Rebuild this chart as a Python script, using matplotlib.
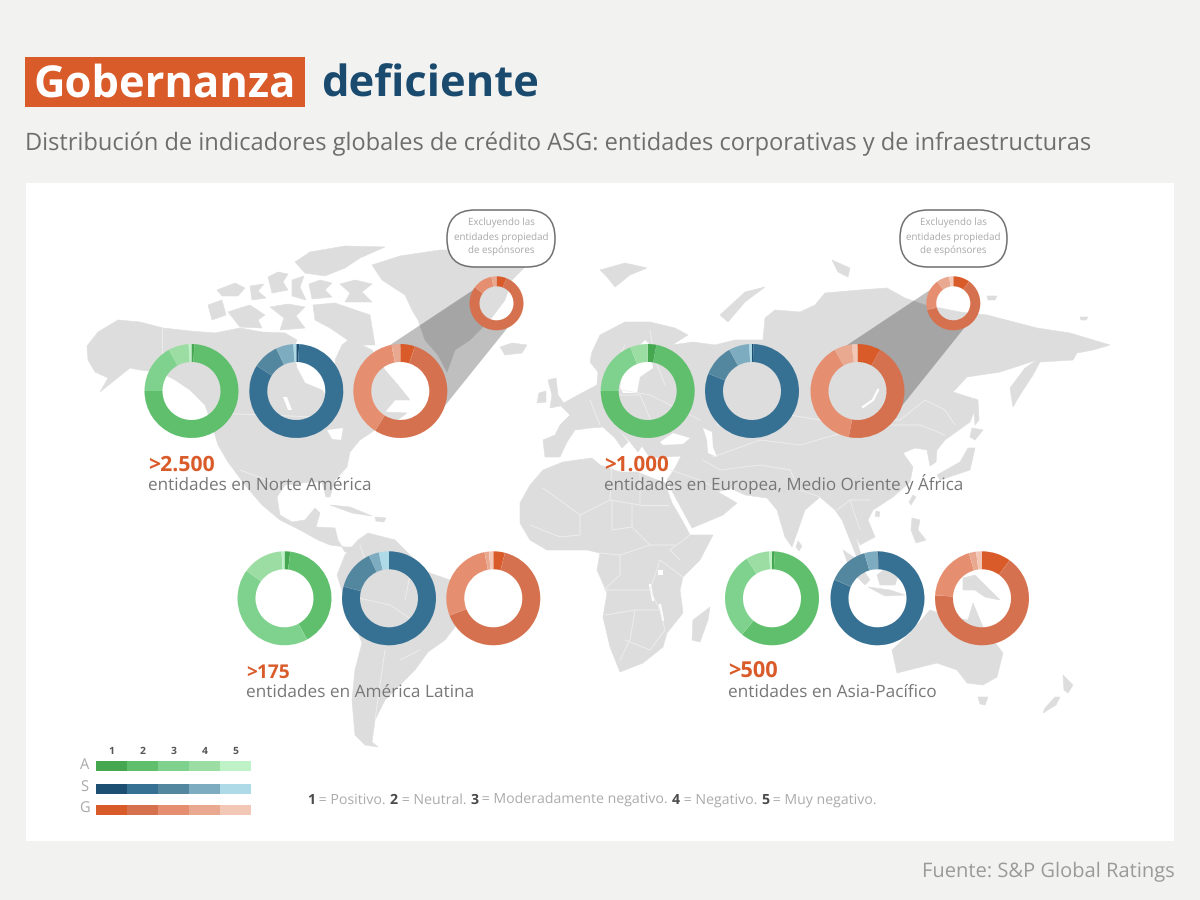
import numpy as np
import matplotlib
matplotlib.use("Agg")
import matplotlib.pyplot as plt
from matplotlib.patches import Rectangle, FancyBboxPatch
from matplotlib.textpath import TextPath
from matplotlib.font_manager import FontProperties

FONT = "Open Sans"
plt.rcParams["font.family"] = [FONT, "DejaVu Sans"]
plt.rcParams["text.hinting"] = "no_hinting"

# ---------- data ----------
RATINGS = [1, 2, 3, 4, 5]
NA_A = [1, 74, 17, 7, 1]
NA_S = [1, 83, 9, 6, 1]
NA_G = [5, 54, 38, 3, 0]
NA_G_EX = [6, 79, 12, 3, 0]
EMEA_A = [3, 72, 19, 6, 0]
EMEA_S = [0.5, 80.5, 11, 7, 1]
EMEA_G = [8, 45, 39, 6, 2]
EMEA_G_EX = [10, 61, 19, 7.5, 2.5]
LATAM_A = [2, 40, 43, 14, 1]
LATAM_S = [0, 79, 14, 3.5, 3.5]
LATAM_G = [4, 65, 28, 1.5, 1.5]
APAC_A = [1, 60, 30, 8, 1]
APAC_S = [0.5, 81, 14, 4.5, 0]
APAC_G = [10, 66, 19.5, 2.5, 2]

COL_A = ["#45A851", "#5FBF6D", "#7FD28D", "#9CDDA3", "#C0F2C8"]
COL_S = ["#1D4F73", "#367194", "#53869F", "#7DACC1", "#AED9E6"]
COL_G = ["#DA5B2A", "#D5714E", "#E68F70", "#E9A890", "#F3C7B6"]

# map outline, in pixels of the reference picture
NORTH_AMERICA = [(87,346),(98,332),(118,320),(140,322),(163,328),(190,331),(215,333),(240,328),(262,332),(285,333),(297,340),(293,350),(297,368),(305,383),(322,390),(328,398),(335,392),(337,375),(335,360),(342,345),(352,337),(362,345),(372,350),(378,360),(385,370),(398,385),(410,400),(395,400),(385,412),(407,413),(395,422),(375,430),(360,440),(350,452),(347,467),(335,480),(330,497),(326,497),(322,482),(310,482),(285,485),(277,497),(280,515),(292,522),(305,520),(315,508),(320,513),(316,527),(335,528),(338,540),(345,552),(358,553),(360,547),(345,547),(330,545),(318,540),(300,530),(280,520),(262,505),(245,485),(228,462),(218,445),(212,425),(205,405),(190,390),(175,380),(160,372),(140,370),(130,368),(115,380),(100,392),(108,378),(95,372),(88,360)]
GREENLAND = [(372,265),(400,256),(440,250),(480,250),(530,262),(512,280),(505,300),(490,320),(470,340),(455,350),(447,372),(438,355),(425,340),(418,320),(412,310),(405,295),(382,280)]
SOUTH_AMERICA = [(358,540),(368,533),(395,540),(427,572),(450,580),(462,600),(455,627),(445,640),(428,652),(415,670),(400,685),(385,700),(375,720),(372,742),(378,747),(365,745),(355,735),(352,700),(355,670),(362,643),(345,600),(337,575),(345,555)]
AFRICA = [(520,503),(530,485),(543,470),(563,462),(592,458),(600,465),(620,472),(637,472),(665,483),(672,503),(682,520),(690,535),(713,535),(700,560),(683,577),(680,590),(683,613),(667,633),(663,647),(643,663),(620,672),(610,647),(603,617),(607,593),(597,570),(600,553),(587,550),(547,550),(530,540),(520,523)]
MADAGASCAR = [(710,607),(708,620),(700,642),(692,640),(693,620)]
EURASIA = [(592,352),(600,335),(625,322),(650,322),(675,328),(688,335),(672,345),(693,342),(715,345),(735,340),(763,340),(765,318),(775,310),(800,312),(815,305),(825,293),(860,290),(887,288),(905,298),(925,305),(960,312),(987,315),(1037,328),(1070,333),(1110,345),(1093,350),(1077,353),(1073,360),(1040,362),(1033,375),(1020,395),(1013,407),(1010,388),(1025,368),(1037,360),(1000,372),(967,377),(953,392),(972,398),(975,410),(970,422),(945,440),(937,450),(936,462),(930,466),(927,450),(915,448),(903,453),(913,467),(910,482),(893,497),(873,510),(868,520),(875,537),(860,545),(855,535),(862,558),(858,560),(850,540),(842,520),(835,510),(820,497),(805,510),(797,533),(792,547),(785,537),(777,510),(767,498),(745,495),(730,488),(718,492),(737,503),(723,515),(692,528),(673,493),(667,480),(675,468),(681,456),(665,457),(650,458),(642,446),(638,452),(630,442),(614,424),(628,442),(622,448),(615,438),(603,427),(590,428),(575,430),(567,442),(560,457),(545,457),(543,440),(555,435),(560,425),(570,415),(560,405),(578,395),(597,385),(598,372),(590,362)]
AUSTRALIA = [(892,650),(897,673),(937,663),(957,670),(967,683),(983,685),(997,677),(1003,653),(983,627),(973,603),(968,620),(950,617),(930,610),(910,633)]
ISLANDS = [
    [(295,262),(310,252),(345,246),(385,247),(360,258),(345,268),(325,276),(305,273)],
    [(208,305),(222,300),(226,315),(212,320)],
    [(228,312),(240,308),(250,305),(265,315),(258,320),(262,328),(240,327)],
    [(217,290),(235,283),(245,288),(238,296),(222,296)],
    [(250,286),(264,284),(258,291),(266,298),(252,300)],
    [(268,277),(278,272),(288,274),(283,282),(288,290),(272,293)],
    [(292,280),(304,276),(300,287),(306,300),(292,296)],
    [(309,284),(320,280),(332,283),(325,290),(332,297),(312,299)],
    [(340,284),(355,280),(372,284),(362,292),(372,302),(345,302),(350,293)],
    [(313,305),(335,303),(370,315),(375,345),(355,345),(330,328),(315,320)],
    [(270,307),(288,304),(305,307),(296,316),(305,328),(280,330),(284,318)],
    [(330,505),(350,507),(372,516),(352,513)],
    [(375,517),(386,518),(384,522),(376,521)],
    [(548,380),(556,378),(558,395),(565,405),(550,408),(552,395)],
    [(539,393),(546,391),(546,402),(537,403)],
    [(500,347),(512,343),(527,345),(522,353),(505,355)],
    [(600,270),(625,263),(647,268),(630,275),(615,287),(607,277)],
    [(720,315),(745,292),(765,287),(745,302),(728,322)],
    [(832,260),(850,268),(848,277),(838,272)],
    [(987,296),(997,296),(995,300),(988,300)],
    [(1080,317),(1088,317),(1086,320),(1081,320)],
    [(975,448),(970,470),(955,475),(940,480),(937,475),(960,462),(968,448)],
    [(972,428),(983,430),(975,440),(970,437)],
    [(973,398),(978,400),(979,420),(975,425)],
    [(913,495),(916,497),(911,505),(909,502)],
    [(876,511),(880,512),(879,517),(875,516)],
    [(912,518),(920,520),(918,530),(926,540),(916,543),(911,530)],
    [(843,550),(855,558),(870,580),(865,585),(850,570)],
    [(868,587),(890,590),(905,595),(885,596)],
    [(877,575),(890,565),(900,570),(895,585),(880,585)],
    [(905,575),(915,570),(912,585),(905,590)],
    [(963,578),(975,575),(990,590),(1000,600),(985,597),(975,590),(963,590)],
    [(798,541),(802,546),(799,551),(796,547)],
    [(978,697),(988,697),(985,705),(980,704)],
    [(1063,675),(1073,685),(1068,693),(1064,690)],
    [(1060,697),(1056,705),(1043,713),(1045,708),(1055,697)],
]
WATER = [
    [(620,387),(623,370),(630,355),(645,340),(650,345),(653,368),(640,377),(637,393),(623,393)],
    [(660,442),(673,433),(690,438),(683,444),(663,445)],
    [(703,428),(712,432),(713,447),(717,457),(708,453),(707,440)],
    [(327,430),(343,428),(341,440),(332,439)],
    [(283,397),(287,397),(292,410),(288,410)],
    [(658,570),(663,570),(663,575),(658,575)],
]
WATER_LINES = [[(878,390),(873,400),(863,407)], [(650,585),(653,600)], [(660,605),(663,620)]]
BORDERS = [
    [(543,488),(550,493),(580,515)], [(580,515),(610,500),(612,460)], [(610,500),(640,505),(640,470)],
    [(580,515),(580,535),(560,537),(530,525)], [(640,505),(668,505)], [(632,505),(632,527),(650,545),(675,545)],
    [(612,500),(612,530),(632,527)], [(650,545),(620,555),(600,553)], [(620,555),(620,575),(604,590),(650,590),(660,560)],
    [(650,590),(660,610),(635,610),(605,615)], [(635,610),(630,640),(620,660)], [(660,610),(665,630),(650,650),(625,640)],
    [(680,560),(670,550),(690,535)], [(660,560),(683,577)],
    [(670,470),(700,480),(720,490)], [(703,460),(720,470),(760,465),(790,470)], [(790,470),(800,490),(820,497)],
    [(713,457),(760,440),(800,445),(835,435),(880,425),(920,425),(945,435)],
    [(835,435),(860,420),(900,420),(925,400),(945,410),(955,425)],
    [(717,425),(750,425),(790,415),(820,420),(838,430)],
    [(610,388),(650,395),(700,420)], [(590,400),(600,425)], [(600,395),(640,395),(655,430)],
    [(625,345),(615,365)], [(650,330),(655,360),(665,385)],
    [(837,510),(850,500),(870,500)], [(850,500),(860,530)],
    [(162,328),(162,370)], [(213,413),(315,417)], [(240,470),(280,485)],
    [(345,595),(390,605),(420,625)], [(370,640),(410,640)], [(385,650),(375,720)], [(400,660),(420,650)],
    [(410,575),(405,600)], [(360,545),(370,575)],
]

LAND = "#DDDDDD"
ORANGE = "#DA5B2A"
GREY = "#777777"

# ---------- canvas ----------
fig = plt.figure(figsize=(12, 9), dpi=100, facecolor="#F2F2F1")
ax = fig.add_axes([0, 0, 1, 1])

def Y(py):
    return 900 - py

def xy(points):
    return [p[0] for p in points], [Y(p[1]) for p in points]

ax.add_patch(Rectangle((26, Y(841)), 1148, 658, fc="white", ec="none", zorder=0))

for shape in [NORTH_AMERICA, GREENLAND, SOUTH_AMERICA, AFRICA, MADAGASCAR, EURASIA, AUSTRALIA] + ISLANDS:
    ax.fill(*xy(shape), fc=LAND, ec=LAND, lw=0.4, zorder=1)
for shape in WATER:
    ax.fill(*xy(shape), fc="white", ec="none", zorder=2)
for line in WATER_LINES:
    ax.plot(*xy(line), color="white", lw=1.6, zorder=2)
for line in BORDERS:
    ax.plot(*xy(line), color="#EFEFEF", lw=0.6, zorder=3)

R, HOLE = 47, 29
R2, HOLE2 = 27, 17

def ring(values, colors, cx, cy, r=R, hole=HOLE):
    wedges, _ = ax.pie(values, colors=colors, center=(cx, Y(cy)), radius=r, startangle=90,
                       counterclock=False, wedgeprops=dict(width=r - hole, linewidth=0))
    for w in wedges:
        w.set_zorder(5)

def funnel(c1, c2):
    # grey band tangent to a big ring and its small version, stopping inside the ring bands
    x1, y1 = c1[0], Y(c1[1])
    x2, y2 = c2[0], Y(c2[1])
    phi = np.arctan2(y2 - y1, x2 - x1)
    beta = np.arccos((R - R2) / np.hypot(x2 - x1, y2 - y1))
    a1 = np.linspace(phi - beta, phi + beta, 40)
    a2 = np.linspace(phi + beta, phi + 2 * np.pi - beta, 40)
    xs = np.r_[x1 + (R - 3) * np.cos(a1), x2 + (R2 - 3) * np.cos(a2)]
    ys = np.r_[y1 + (R - 3) * np.sin(a1), y2 + (R2 - 3) * np.sin(a2)]
    ax.fill(xs, ys, fc="black", alpha=0.25, ec="none", zorder=4)

ROW1, ROW2 = 391, 598.3
funnel((400.3, ROW1), (496.5, 303.3))
funnel((857.5, ROW1), (953.3, 303.3))

ring(NA_A, COL_A, 191.5, ROW1)
ring(NA_S, COL_S, 296.3, ROW1)
ring(NA_G, COL_G, 400.3, ROW1)
ring(NA_G_EX, COL_G, 496.5, 303.3, R2, HOLE2)
ring(EMEA_A, COL_A, 647.7, ROW1)
ring(EMEA_S, COL_S, 752, ROW1)
ring(EMEA_G, COL_G, 857.5, ROW1)
ring(EMEA_G_EX, COL_G, 953.3, 303.3, R2, HOLE2)
ring(LATAM_A, COL_A, 284.5, ROW2)
ring(LATAM_S, COL_S, 389, ROW2)
ring(LATAM_G, COL_G, 493.3, ROW2)
ring(APAC_A, COL_A, 772, ROW2)
ring(APAC_S, COL_S, 877.5, ROW2)
ring(APAC_G, COL_G, 982, ROW2)

ax.set_xlim(0, 1200)
ax.set_ylim(0, 900)
ax.set_aspect("auto")
ax.axis("off")

def fit_text(s, x0, x1, baseline, color, weight="normal"):
    # size in points chosen so that the outline of the string spans x0..x1 pixels at 100 dpi
    prop = FontProperties(family=FONT, weight=weight)
    ext = TextPath((0, 0), s, size=100, prop=prop).get_extents()
    size = 100 * (x1 - x0) / ext.width * 72 / 100
    return ax.text(x0 - ext.x0 * size / 100 * 100 / 72, Y(baseline), s, color=color, fontweight=weight,
                   fontsize=size, ha="left", va="baseline", zorder=7)

# ---------- header ----------
ax.add_patch(Rectangle((25, Y(107)), 280, 50, fc=ORANGE, ec="none", zorder=1))
fit_text("Gobernanza", 36, 293, 97, "white", "bold")
fit_text("deficiente", 323, 537, 97, "#1A4A6E", "bold")
fit_text("Distribución de indicadores globales de crédito ASG: entidades corporativas y de infraestructuras",
         27, 1091, 150, "#6E6E6E")
fit_text("Fuente: S&P Global Ratings", 924, 1174, 877, "#9A9A9A")

# ---------- region labels ----------
for big, small, x0, x_big, x_small, py in [
    (">2.500", "entidades en Norte América", 149, 214, 370, 465),
    (">1.000", "entidades en Europea, Medio Oriente y África", 605, 668, 963, 465),
    (">175", "entidades en América Latina", 247, 289, 472, 672),
    (">500", "entidades en Asia-Pacífico", 729, 777, 936, 672),
]:
    fit_text(big, x0, x_big, py + 5.5, ORANGE, "bold")
    fit_text(small, x0, x_small, py + 24.5, GREY)

# ---------- bubbles ----------
BUBBLE_LINES = ["Excluyendo las", "entidades propiedad", "de espónsores"]
for cx, x0, x1 in [(501.5, 447, 555), (953.5, 900, 1007)]:
    ax.add_patch(FancyBboxPatch((x0 + 28, Y(267) + 28), x1 - x0 - 56, 1,
                                boxstyle="round,pad=28,rounding_size=28",
                                fc="white", ec="#707070", lw=1.1, zorder=6))
    for i, s in enumerate(BUBBLE_LINES):
        ax.text(cx, Y(223.5 + 13.5 * i), s, color="#A8A8A8", fontsize=7,
                ha="center", va="center", zorder=7)

# ---------- legend ----------
for label, colors, top in [("A", COL_A, 761), ("S", COL_S, 783.5), ("G", COL_G, 805)]:
    ax.text(84.5, Y(top + 4), label, color="#A8A8A8", fontsize=10.5, ha="center", va="center")
    for r, c in zip(RATINGS, colors):
        ax.bar(96 + 31 * (r - 0.5), 10, width=31, bottom=Y(top + 10), color=c, linewidth=0, zorder=2)
for r in RATINGS:
    ax.text(96 + 31 * (r - 0.5), Y(751), str(r), color="#555555", fontsize=7.5,
            fontweight="bold", ha="center", va="center")

# ---------- legend sentence ----------
PARTS = [("1", True), (" = Positivo. ", False), ("2", True), (" = Neutral. ", False), ("3", True),
         (" = Moderadamente negativo. ", False), ("4", True), (" = Negativo. ", False), ("5", True),
         (" = Muy negativo.", False)]
x = 307.0
FS = 10.2
for s, strong in PARTS:
    shown = s.replace(" ", "\u00a0")
    weight = "bold" if strong else "normal"
    ax.text(x, Y(804), shown, fontsize=FS, va="baseline", ha="left",
            color="#4A4A4A" if strong else "#ABABAB", fontweight=weight, zorder=7)
    adv = TextPath((0, 0), shown + "|", size=100, prop=FontProperties(family=FONT, weight=weight)).get_extents().x1
    bar = TextPath((0, 0), "|", size=100, prop=FontProperties(family=FONT, weight=weight)).get_extents().x1
    x += (adv - bar) / 100 * FS * 100 / 72

ax.set_xlim(0, 1200)
ax.set_ylim(0, 900)
fig.savefig("out.png", dpi=100, facecolor=fig.get_facecolor())
